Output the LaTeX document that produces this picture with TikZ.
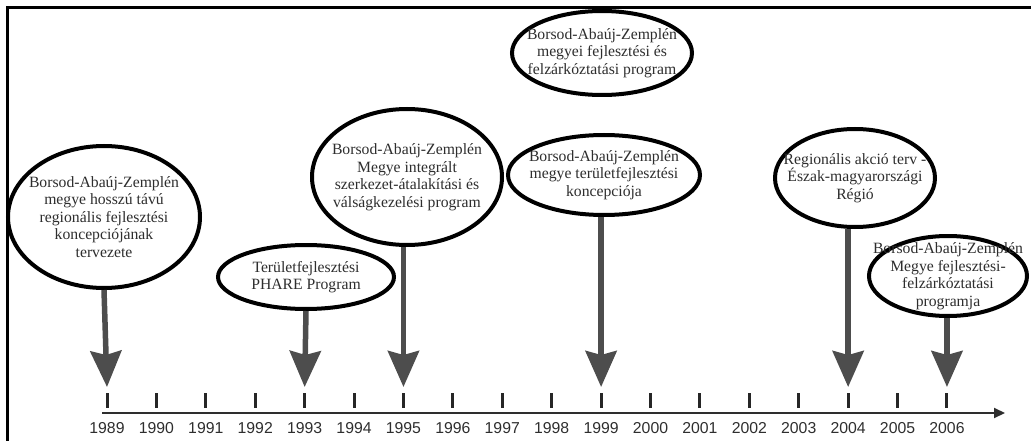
\documentclass[tikz,border=0pt]{standalone}
\usepackage{fontspec}
\setmainfont{Liberation Serif}
\newfontfamily\axisfont{Liberation Sans}
\usetikzlibrary{shapes.geometric,arrows.meta}
\definecolor{arrowgray}{HTML}{4d4d4d}
\definecolor{textgray}{HTML}{2e2e2e}
\begin{document}
\begin{tikzpicture}[x=1pt,y=-1pt,
  bubble/.style={ellipse,draw=black,line width=4pt,fill=white,inner sep=0pt},
  bubbletext/.style={align=center,text=textgray,font=\fontsize{15.7}{17.5}\selectfont,inner sep=0pt},
  bigarrow/.style={draw=arrowgray,line width=5.5pt,-{Stealth[length=36pt,width=31pt,inset=4pt]}},
  tickmark/.style={line width=3pt,draw=black!85},
  yearlabel/.style={font=\axisfont\fontsize{15.8}{15.8}\selectfont,text=textgray,inner sep=0pt}]
\useasboundingbox (0,0) rectangle (1031,441);
% frame
\draw[line width=2.5pt] (7.5,441) -- (7.5,7.5) -- (1031,7.5);
% axis
\coordinate (axs) at (102,413);
\coordinate (axe) at (1005,413);
\draw[line width=2pt,draw=textgray,-{Triangle[length=11pt,width=10pt]}] (axs) -- (axe);
\foreach \i in {0,...,17}{
  \pgfmathsetmacro\xx{107+49.41*\i}
  \pgfmathtruncatemacro\yr{1989+\i}
  \coordinate (t\yr) at (\xx,393);
  \coordinate (b\yr) at (\xx,408);
  \draw[tickmark] (t\yr) -- (b\yr);
  \node[yearlabel] (y\yr) at (\xx,428) {\yr};
}
% arrow tips
\foreach \yr in {1989,1993,1995,1999,2004,2006}{
  \pgfmathsetmacro\xx{107+49.41*(\yr-1989)}
  \coordinate (p\yr) at (\xx,387);
}
% ellipses
\node[bubble,minimum width=192pt,minimum height=142pt] (e89) at (104,217) {};
\node[bubble,minimum width=190pt,minimum height=136pt] (e95) at (407,177) {};
\node[bubble,minimum width=176pt,minimum height=64pt] (e93) at (306,277) {};
\node[bubble,minimum width=180pt,minimum height=84pt] (e99a) at (602,53) {};
\node[bubble,minimum width=192pt,minimum height=80pt] (e99) at (604,175) {};
\node[bubble,minimum width=160pt,minimum height=98pt] (e04) at (855,178) {};
\node[bubble,minimum width=158pt,minimum height=80pt] (e06) at (948,276) {};
% arrows
\draw[bigarrow] (e89.south) -- (p1989);
\draw[bigarrow] (e93.south) -- (p1993);
\draw[bigarrow] (e95.south -| p1995) -- (p1995);
\draw[bigarrow] (e99.south -| p1999) -- (p1999);
\draw[bigarrow] (e04.south -| p2004) -- (p2004);
\draw[bigarrow] (e06.south -| p2006) -- (p2006);
% texts
\node[bubbletext] (x89) at (e89) {Borsod-Abaúj-Zemplén\\megye hosszú távú\\regionális fejlesztési\\koncepciójának\\tervezete};
\node[bubbletext] (x93) at (e93) {Területfejlesztési\\PHARE Program};
\node[bubbletext] (x95) at (e95) {Borsod-Abaúj-Zemplén\\Megye integrált\\szerkezet-átalakítási és\\válságkezelési program};
\node[bubbletext] (x99a) at (e99a) {Borsod-Abaúj-Zemplén\\megyei fejlesztési és\\felzárkóztatási program};
\node[bubbletext] (x99) at (e99) {Borsod-Abaúj-Zemplén\\megye területfejlesztési\\koncepciója};
\node[bubbletext] (x04) at (e04) {Regionális akció terv -\\Észak-magyarországi\\Régió};
\node[bubbletext] (x06) at (e06) {Borsod-Abaúj-Zemplén\\Megye fejlesztési-\\felzárkóztatási\\programja};
\end{tikzpicture}
\end{document}
